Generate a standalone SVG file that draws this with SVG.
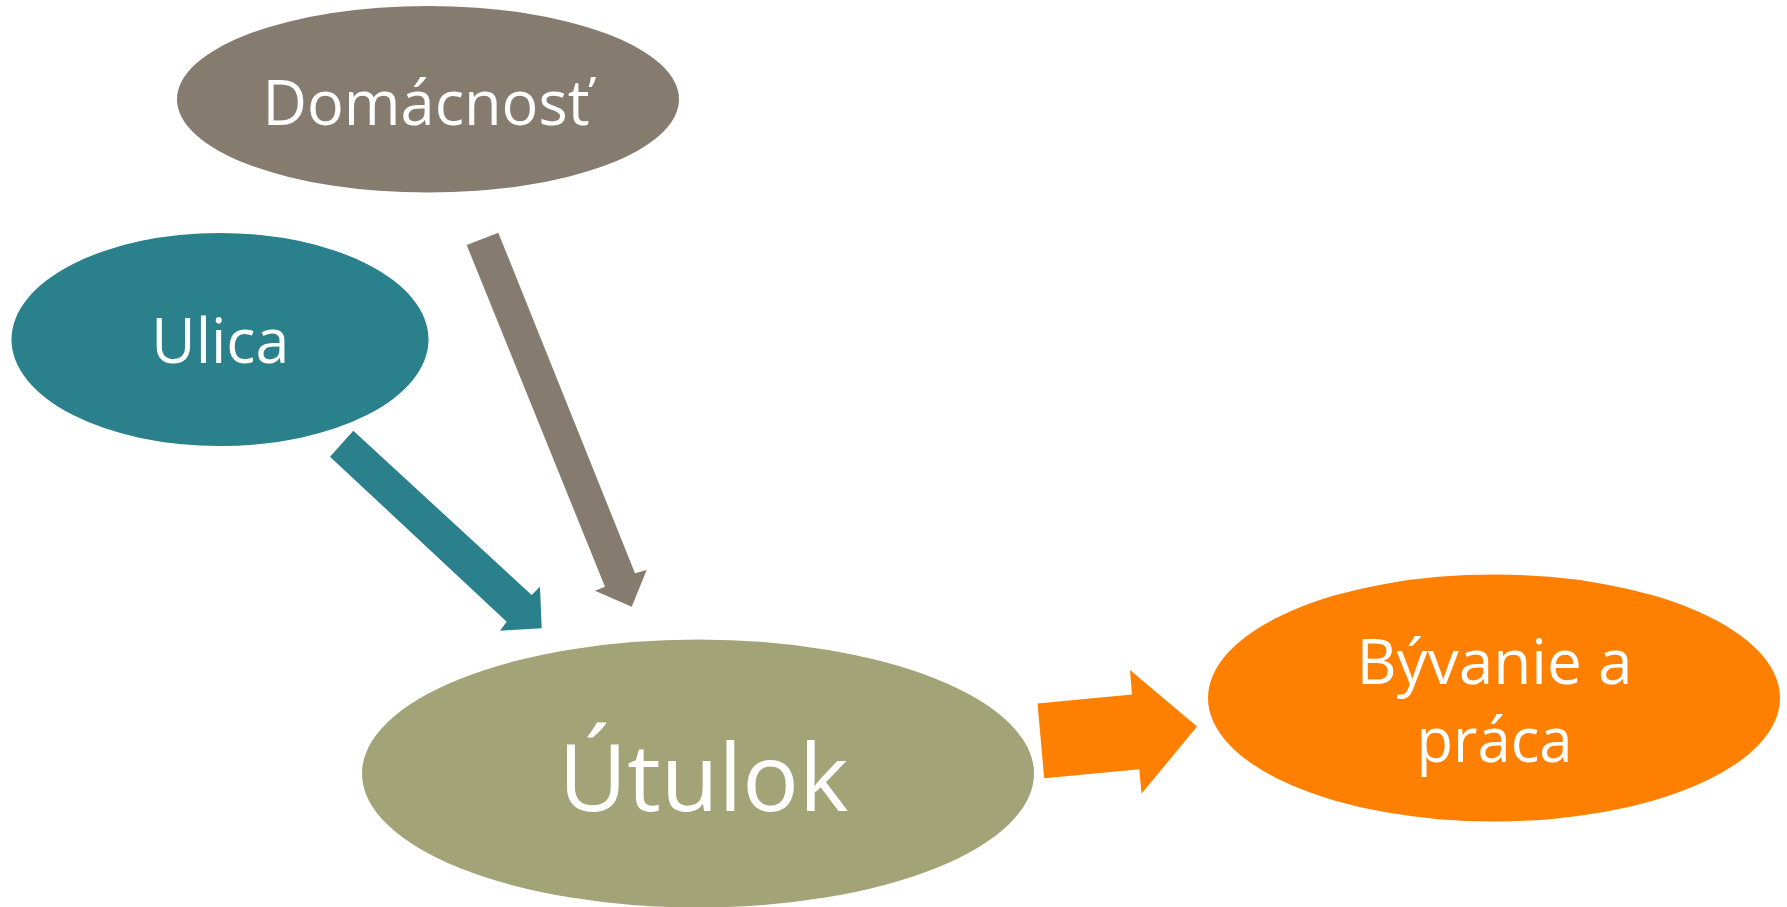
<svg xmlns="http://www.w3.org/2000/svg" width="1787" height="907" viewBox="0 0 1787 907">
  <style>
    .lbl { font-family: "Open Sans", "Noto Sans", "Liberation Sans", sans-serif; fill: #ffffff; text-anchor: middle; }
  </style>
  <rect x="0" y="0" width="1787" height="907" fill="#ffffff"/>
  <g id="connectors">
    <polygon id="arrow-ulica-utulok" fill="#2A818C" points="353.3,430.7 531.7,595 540,586.7 541.7,628.3 500,630.7 506.7,621.7 330,456.7"/>
    <polygon id="arrow-domacnost-utulok" fill="#857B6E" points="466.7,245 498.3,232.7 635,573.3 646.7,570 631.7,606.7 595,590.7 605,586.7"/>
    <polygon id="arrow-utulok-byvanie" fill="#FF7F00" points="1037.5,703.6 1132,694.5 1130,670 1197,726.5 1141.5,793.8 1139.3,769.3 1044.2,778.2"/>
  </g>
  <g id="node-domacnost">
    <ellipse cx="428" cy="99.3" rx="251" ry="93.3" fill="#857B6E"/>
    <text class="lbl" x="426" y="124.5" font-size="63" textLength="327" lengthAdjust="spacingAndGlyphs">Domácnosť</text>
  </g>
  <g id="node-ulica">
    <ellipse cx="220" cy="339.5" rx="208.5" ry="106.5" fill="#2A818C"/>
    <text class="lbl" x="220.3" y="363.3" font-size="63" textLength="138" lengthAdjust="spacingAndGlyphs">Ulica</text>
  </g>
  <g id="node-utulok">
    <ellipse cx="698" cy="773.5" rx="336" ry="134" fill="#A2A477"/>
    <text class="lbl" x="703.5" y="810.7" font-size="93" textLength="290" lengthAdjust="spacingAndGlyphs">Útulok</text>
  </g>
  <g id="node-byvanie">
    <ellipse cx="1494" cy="698" rx="286" ry="123.5" fill="#FF7F00"/>
    <text class="lbl" x="1494.5" y="684.3" font-size="63" textLength="276" lengthAdjust="spacingAndGlyphs">Bývanie a</text>
    <text class="lbl" x="1494.5" y="761.7" font-size="63" textLength="156" lengthAdjust="spacingAndGlyphs">práca</text>
  </g>
</svg>
